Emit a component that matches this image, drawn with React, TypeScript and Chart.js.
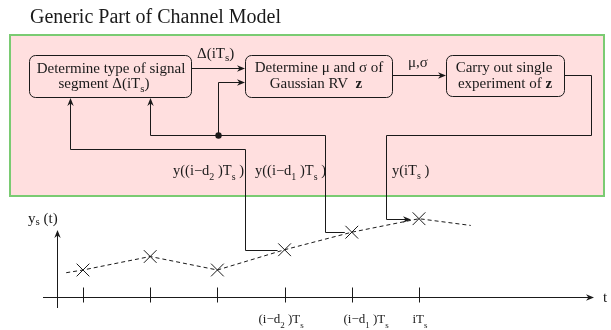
import React, { useEffect, useRef } from 'react';
import { Chart, registerables } from 'chart.js';

Chart.register(...registerables);

// ---- data (time in units of Ts, value in arbitrary units) ----
const sampleTimes = [1, 2, 3, 4, 5, 6];
const sampleValues = [2.0, 3.0, 2.0, 3.5, 4.8, 5.8];
const traceTimes = [0.75, 1, 2, 3, 4, 5, 6, 6.77];
const traceValues = [1.8, 2.0, 3.0, 2.0, 3.5, 4.8, 5.8, 5.3];
const tickLabels = ['', '', '', '(i−d_2 )T_s', '(i−d_1 )T_s', 'iT_s'];
const title = 'Generic Part of Channel Model';
const box1Lines = ['Determine type of signal', 'segment Δ(iT_s)'];
const box2Lines = ['Determine μ and σ of', 'Gaussian RV  *z*'];
const box3Lines = ['Carry out single', 'experiment of *z*'];
const arrowLabel1 = 'Δ(iT_s)';
const arrowLabel2 = 'μ,σ';
const feedbackLabels = ['y((i−d_2 )T_s )', 'y((i−d_1 )T_s )', 'y(iT_s )'];
const yAxisLabel = 'y_s (t)';
const xAxisLabel = 't';

const SERIF = '"Liberation Serif", "Times New Roman", "DejaVu Serif", serif';
const INK = '#1a1a1a';
const tickLabelShift = [0, 0, 0, -27, -9, -7];

type Part = { t: string; sub: boolean; bold: boolean };
function parse(s: string): Part[] {
  const out: Part[] = [];
  let bold = false;
  let buf = '';
  const flush = () => { if (buf) { out.push({ t: buf, sub: false, bold }); buf = ''; } };
  for (let i = 0; i < s.length; i++) {
    const c = s[i];
    if (c === '*') { flush(); bold = !bold; continue; }
    if (c === '_' && i + 1 < s.length) { flush(); out.push({ t: s[i + 1], sub: true, bold }); i++; continue; }
    buf += c;
  }
  flush();
  return out;
}
function fontFor(p: Part, size: number) {
  const sz = p.sub ? Math.round(size * 0.72) : size;
  return `${p.bold ? 'bold ' : ''}${sz}px ${SERIF}`;
}
function drawRich(ctx: CanvasRenderingContext2D, s: string, x: number, y: number, size: number, align: 'left' | 'center' = 'left', subDrop = 0.3) {
  const parts = parse(s);
  const widths = parts.map(p => { ctx.font = fontFor(p, size); return ctx.measureText(p.t).width; });
  const total = widths.reduce((a, b) => a + b, 0);
  let cx = align === 'center' ? x - total / 2 : x;
  ctx.textAlign = 'left';
  ctx.textBaseline = 'alphabetic';
  parts.forEach((p, i) => {
    ctx.font = fontFor(p, size);
    ctx.fillText(p.t, cx, y + (p.sub ? size * subDrop : 0));
    cx += widths[i];
  });
}
function arrowHead(ctx: CanvasRenderingContext2D, x: number, y: number, angle: number, len = 8, half = 3.2) {
  ctx.save();
  ctx.translate(x, y);
  ctx.rotate(angle);
  ctx.beginPath();
  ctx.moveTo(0, 0);
  ctx.lineTo(-len, -half);
  ctx.lineTo(-len * 0.7, 0);
  ctx.lineTo(-len, half);
  ctx.closePath();
  ctx.fill();
  ctx.restore();
}
function poly(ctx: CanvasRenderingContext2D, pts: number[][]) {
  ctx.beginPath();
  ctx.moveTo(pts[0][0], pts[0][1]);
  for (let i = 1; i < pts.length; i++) ctx.lineTo(pts[i][0], pts[i][1]);
  ctx.stroke();
}
function roundRect(ctx: CanvasRenderingContext2D, x: number, y: number, w: number, h: number, r: number) {
  ctx.beginPath();
  ctx.moveTo(x + r, y);
  ctx.arcTo(x + w, y, x + w, y + h, r);
  ctx.arcTo(x + w, y + h, x, y + h, r);
  ctx.arcTo(x, y + h, x, y, r);
  ctx.arcTo(x, y, x + w, y, r);
  ctx.closePath();
  ctx.stroke();
}

const diagramPlugin = {
  id: 'diagram',
  beforeDatasetsDraw(chart: any) {
    const ctx: CanvasRenderingContext2D = chart.ctx;
    const xs = chart.scales.x;
    const ys = chart.scales.y;
    const px = (t: number) => xs.getPixelForValue(t);
    const py = (v: number) => ys.getPixelForValue(v);
    ctx.save();
    ctx.fillStyle = '#ffffff';
    ctx.fillRect(0, 0, chart.width, chart.height);

    // title
    ctx.fillStyle = INK;
    drawRich(ctx, title, 30, 23, 20);

    // panel
    ctx.fillStyle = '#ffdfdf';
    ctx.fillRect(10, 35, 594, 161);
    ctx.strokeStyle = '#7acb72';
    ctx.lineWidth = 2;
    ctx.strokeRect(10, 35, 594, 161);

    ctx.strokeStyle = INK;
    ctx.fillStyle = INK;
    ctx.lineWidth = 1;
    // boxes
    roundRect(ctx, 29.5, 55.5, 162, 42, 6);
    roundRect(ctx, 245.5, 55.5, 147, 42, 6);
    roundRect(ctx, 446.5, 55.5, 118, 41, 6);
    drawRich(ctx, box1Lines[0], 111, 73, 15, 'center', 0.25);
    drawRich(ctx, box1Lines[1], 104, 88, 15, 'center', 0.25);
    drawRich(ctx, box2Lines[0], 319, 72, 15, 'center');
    drawRich(ctx, box2Lines[1], 316, 88, 15, 'center');
    drawRich(ctx, box3Lines[0], 504, 72, 15, 'center');
    drawRich(ctx, box3Lines[1], 505, 88, 15, 'center');

    // arrows between boxes
    poly(ctx, [[192, 68.5], [240, 68.5]]);
    arrowHead(ctx, 245, 68.5, 0);
    drawRich(ctx, arrowLabel1, 197, 58, 15, 'left', 0.2);
    poly(ctx, [[393, 75.5], [441, 75.5]]);
    arrowHead(ctx, 446, 75.5, 0);
    drawRich(ctx, arrowLabel2, 408, 67, 15);

    // feedback network
    const s4x = px(sampleTimes[3]), s4y = py(sampleValues[3]);
    const s5x = px(sampleTimes[4]), s5y = py(sampleValues[4]);
    const s6x = px(sampleTimes[5]), s6y = py(sampleValues[5]);
    // d1 path
    poly(ctx, [[218.5, 82.5], [240, 82.5]]);
    arrowHead(ctx, 245, 82.5, 0);
    poly(ctx, [[218.5, 82.5], [218.5, 135.5]]);
    poly(ctx, [[150.5, 103], [150.5, 135.5], [325.5, 135.5], [325.5, Math.round(s5y) + 0.5], [s5x - 7, Math.round(s5y) + 0.5]]);
    arrowHead(ctx, 150.5, 98, -Math.PI / 2);
    ctx.beginPath();
    ctx.arc(218.5, 135.5, 3.2, 0, Math.PI * 2);
    ctx.fill();
    // d2 path
    poly(ctx, [[70.5, 103], [70.5, 149.5], [245.5, 149.5], [245.5, Math.round(s4y) + 0.5], [s4x - 7, Math.round(s4y) + 0.5]]);
    arrowHead(ctx, 70.5, 98, -Math.PI / 2);
    // current sample path
    poly(ctx, [[565, 75.5], [591.5, 75.5], [591.5, 135.5], [386.5, 135.5], [386.5, Math.round(s6y) + 0.5], [s6x - 12, Math.round(s6y) + 0.5]]);
    arrowHead(ctx, s6x - 8, Math.round(s6y) + 0.5, 0);

    ctx.fillStyle = INK;
    drawRich(ctx, feedbackLabels[0], 173, 175, 14.5, 'left', 0.35);
    drawRich(ctx, feedbackLabels[1], 255, 175, 14.5, 'left', 0.35);
    drawRich(ctx, feedbackLabels[2], 392, 175, 14.5, 'left', 0.25);

    // axes
    const y0 = Math.round(py(0)) + 0.5;
    const yAxisX = 57.5;
    poly(ctx, [[43, y0], [589, y0]]);
    arrowHead(ctx, 594, y0, 0);
    poly(ctx, [[yAxisX, 308], [yAxisX, 235]]);
    arrowHead(ctx, yAxisX, 230, -Math.PI / 2);
    drawRich(ctx, yAxisLabel, 28, 223, 15, 'left', 0.12);
    drawRich(ctx, xAxisLabel, 603, 302, 15);
    sampleTimes.forEach((t, i) => {
      const x = Math.round(px(t)) + 0.5;
      poly(ctx, [[x, y0 - 10], [x, y0 + 5]]);
      if (tickLabels[i]) drawRich(ctx, tickLabels[i], x + tickLabelShift[i], 323, 13, 'left', 0.35);
    });
    ctx.restore();
  },
};

export default function App() {
  const ref = useRef<HTMLCanvasElement | null>(null);
  useEffect(() => {
    if (!ref.current) return;
    const chart = new Chart(ref.current, {
      type: 'scatter',
      data: {
        datasets: [
          {
            data: traceTimes.map((t, i) => ({ x: t, y: traceValues[i] })),
            showLine: true,
            borderColor: INK,
            borderWidth: 1,
            borderDash: [4, 3],
            pointRadius: 0,
            fill: false,
          },
          {
            data: sampleTimes.map((t, i) => ({ x: t, y: sampleValues[i] })),
            showLine: false,
            pointStyle: 'crossRot',
            pointRadius: 9,
            pointBorderWidth: 1,
            pointBorderColor: INK,
            pointBackgroundColor: INK,
          },
        ],
      },
      options: {
        animation: false,
        responsive: false,
        devicePixelRatio: 1,
        layout: { padding: 0, autoPadding: false },
        plugins: { legend: { display: false }, tooltip: { enabled: false } },
        scales: {
          x: { type: 'linear', display: false, min: -0.235, max: 8.857 },
          y: { type: 'linear', display: false, min: -2.444, max: 22.0 },
        },
      },
      plugins: [diagramPlugin],
    });
    return () => chart.destroy();
  }, []);
  return (
    <div style={{ position: 'absolute', left: 0, top: 0, width: 611, height: 330 }}>
      <canvas ref={ref} width={611} height={330} />
    </div>
  );
}
